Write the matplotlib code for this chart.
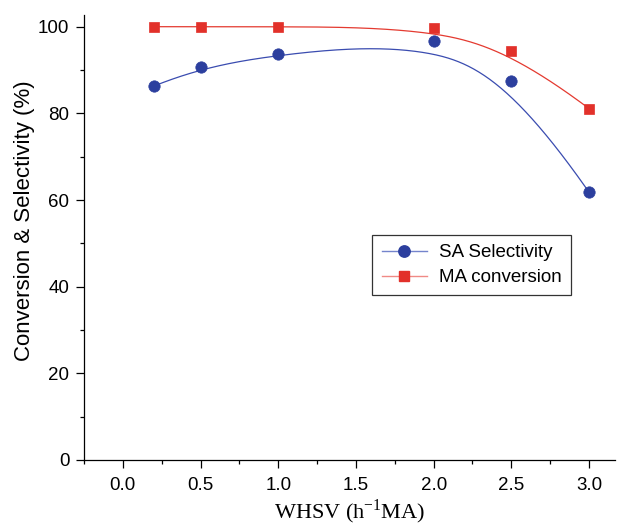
import numpy as np
import matplotlib
matplotlib.use("Agg")
import matplotlib.pyplot as plt
from matplotlib.lines import Line2D

whsv = [0.2, 0.5, 1.0, 2.0, 2.5, 3.0]
sa_selectivity = [86.3, 90.6, 93.8, 96.7, 87.4, 61.8]
ma_conversion = [100.0, 100.0, 100.0, 99.8, 94.5, 81.1]

blue = "#2c3f9e"
red = "#e2312a"

plt.rcParams['font.family'] = ['Liberation Sans', 'DejaVu Sans']


def bspline(cx, cy, k=3, n=400):
    cx = np.asarray(cx, float)
    cy = np.asarray(cy, float)
    m = len(cx)
    knots = np.concatenate([np.zeros(k), np.linspace(0, 1, m - k + 1), np.ones(k)])
    t = np.linspace(0, 1, n)
    t[-1] = 1 - 1e-12
    N = np.array([((knots[i] <= t) & (t < knots[i + 1])) for i in range(len(knots) - 1)], float)
    for d in range(1, k + 1):
        newN = np.zeros((len(knots) - 1 - d, n))
        for i in range(len(knots) - 1 - d):
            a = knots[i + d] - knots[i]
            b = knots[i + d + 1] - knots[i + 1]
            if a > 0:
                newN[i] += (t - knots[i]) / a * N[i]
            if b > 0:
                newN[i] += (knots[i + d + 1] - t) / b * N[i + 1]
        N = newN
    return cx @ N, cy @ N


fig = plt.figure(figsize=(6.29, 5.26), dpi=100)
ax = fig.add_axes([0.1335, 0.1255, 0.845, 0.846])

bx, by = bspline(whsv, sa_selectivity)
rx, ry = bspline(whsv, ma_conversion)
ax.plot(bx, by, color="#3a4cb0", lw=0.9)
ax.plot(rx, ry, color="#e43a30", lw=0.9)

ax.plot(whsv, sa_selectivity, 'o', color=blue, ms=8.2, mec=blue, mew=0.5)
ax.plot(whsv, ma_conversion, 's', color=red, ms=6.8, mec=red, mew=0.5)

h1 = Line2D([], [], color='#7484cc', lw=1, marker='o', ms=8.2, mfc=blue, mec=blue)
h2 = Line2D([], [], color='#f08a86', lw=1, marker='s', ms=6.8, mfc=red, mec=red)
leg = ax.legend([h1, h2], ['SA Selectivity', 'MA conversion'], loc='upper left',
                bbox_to_anchor=(0.5424, 0.5056), borderaxespad=0, fontsize=13.5,
                frameon=True, fancybox=False, edgecolor='black', handlelength=2.4,
                handletextpad=0.65, borderpad=0.5, labelspacing=0.4)
leg.get_frame().set_linewidth(0.9)

ax.set_xlim(-0.25, 3.17)
ax.set_ylim(0, 102.7)
ax.set_xticks([0.0, 0.5, 1.0, 1.5, 2.0, 2.5, 3.0])
ax.set_xticks(np.arange(-0.25, 3.2, 0.25), minor=True)
ax.set_yticks([0, 20, 40, 60, 80, 100])
ax.set_yticks(np.arange(0, 101, 10), minor=True)
ax.tick_params(axis='both', which='major', direction='out', length=5.5, width=0.9,
               labelsize=13.5, pad=5)
ax.tick_params(axis='x', which='major', pad=7)
ax.tick_params(axis='both', which='minor', direction='out', length=3, width=0.9)
ax.xaxis.set_major_formatter(matplotlib.ticker.FormatStrFormatter('%.1f'))
for s in ['top', 'right']:
    ax.spines[s].set_visible(False)
for s in ['left', 'bottom']:
    ax.spines[s].set_linewidth(0.9)

ax.set_ylabel('Conversion & Selectivity (%)', fontsize=16)
ax.yaxis.set_label_coords(-0.092, 0.537)
ax.set_xlabel(r'WHSV (h$^{\mathregular{-1}}$MA)', fontsize=16,
              family=['Liberation Serif'], labelpad=2)

fig.savefig('out.png', dpi=100)
